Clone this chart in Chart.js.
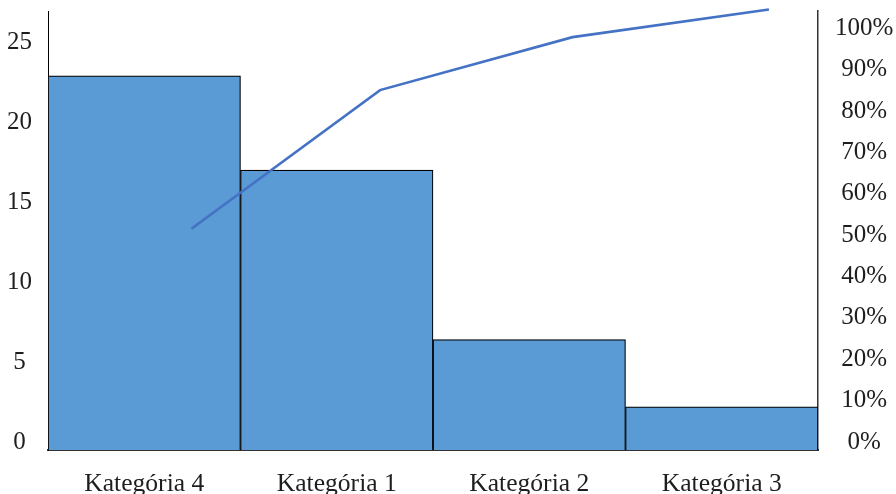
<!DOCTYPE html>
<html>
<head>
<meta charset="utf-8">
<script src="https://cdn.jsdelivr.net/npm/chart.js@4/dist/chart.umd.min.js"></script>
<style>
  html, body { margin: 0; padding: 0; background: #fff; }
  #wrap { width: 896px; height: 494px; }
</style>
</head>
<body>
<div id="wrap"><canvas id="c" width="896" height="494"></canvas></div>
<script>
// Pareto chart: counts per category (bars) and cumulative share (line)
const categories = ['Kategória 4', 'Kategória 1', 'Kategória 2', 'Kategória 3'];
const counts = [23.4, 17.5, 6.9, 2.7];
const cumulativeShare = [0.535, 0.87, 0.998, 1.065];
// position of each line point along the category axis (index units)
const linePositions = [0.245, 1.225, 2.225, 3.245];
const countTicks = [0, 5, 10, 15, 20, 25];
const shareTicks = [0, 0.1, 0.2, 0.3, 0.4, 0.5, 0.6, 0.7, 0.8, 0.9, 1.0];

const family = "'Liberation Serif', 'DejaVu Serif', serif";
const serif = { family, size: 25 };
const serifCat = { family, size: 25.6 };
const textColor = '#1e1e1e';

// fixed axis sizes, no extra edge padding for overhanging labels
const fixVertical = w => s => { s.width = w; s.paddingTop = 0; s.paddingBottom = 0; };

new Chart(document.getElementById('c'), {
  type: 'bar',
  data: {
    labels: categories,
    datasets: [
      {
        type: 'bar',
        data: counts,
        backgroundColor: '#5B9BD5',
        borderColor: '#000',
        borderWidth: 1.2,
        barPercentage: 1,
        categoryPercentage: 1,
        grouped: false,
        xAxisID: 'x',
        yAxisID: 'y',
        order: 2
      },
      {
        type: 'line',
        data: cumulativeShare.map((v, i) => ({ x: linePositions[i], y: v })),
        borderColor: '#4472C4',
        borderWidth: 2.6,
        pointRadius: 0,
        tension: 0,
        fill: false,
        clip: false,
        xAxisID: 'xl',
        yAxisID: 'y2',
        order: 1
      }
    ]
  },
  options: {
    responsive: false,
    animation: false,
    events: [],
    layout: { padding: { top: 11, left: 0, right: 0, bottom: 0 } },
    plugins: { legend: { display: false }, tooltip: { enabled: false } },
    scales: {
      x: {
        type: 'category',
        position: 'bottom',
        offset: true,
        grid: { display: false, drawTicks: false },
        border: { display: true, color: '#333', width: 2 },
        ticks: { color: textColor, font: serifCat, padding: 19, maxRotation: 0 },
        afterFit: s => { s.height = 44; s.paddingLeft = 0; s.paddingRight = 0; }
      },
      xl: {
        type: 'linear',
        display: false,
        offset: false,
        min: -0.5,
        max: 3.5
      },
      y: {
        type: 'linear',
        position: 'left',
        min: 0,
        max: 27.45,
        grid: { display: false, drawTicks: false },
        border: { display: true, color: '#000', width: 1 },
        afterBuildTicks: s => { s.ticks = countTicks.map(v => ({ value: v })); },
        ticks: {
          color: textColor, font: serif, padding: 16,
          crossAlign: 'center', labelOffset: -8
        },
        afterFit: fixVertical(48)
      },
      y2: {
        type: 'linear',
        position: 'right',
        min: 0,
        max: 1.0612,
        grid: { display: false, drawTicks: false },
        border: { display: true, color: '#333', width: 1.5 },
        afterBuildTicks: s => { s.ticks = shareTicks.map(v => ({ value: v })); },
        ticks: {
          color: textColor, font: serif, padding: 17,
          crossAlign: 'center', labelOffset: -8,
          callback: v => Math.round(v * 100) + '%'
        },
        afterFit: fixVertical(78)
      }
    }
  }
});
</script>
</body>
</html>
